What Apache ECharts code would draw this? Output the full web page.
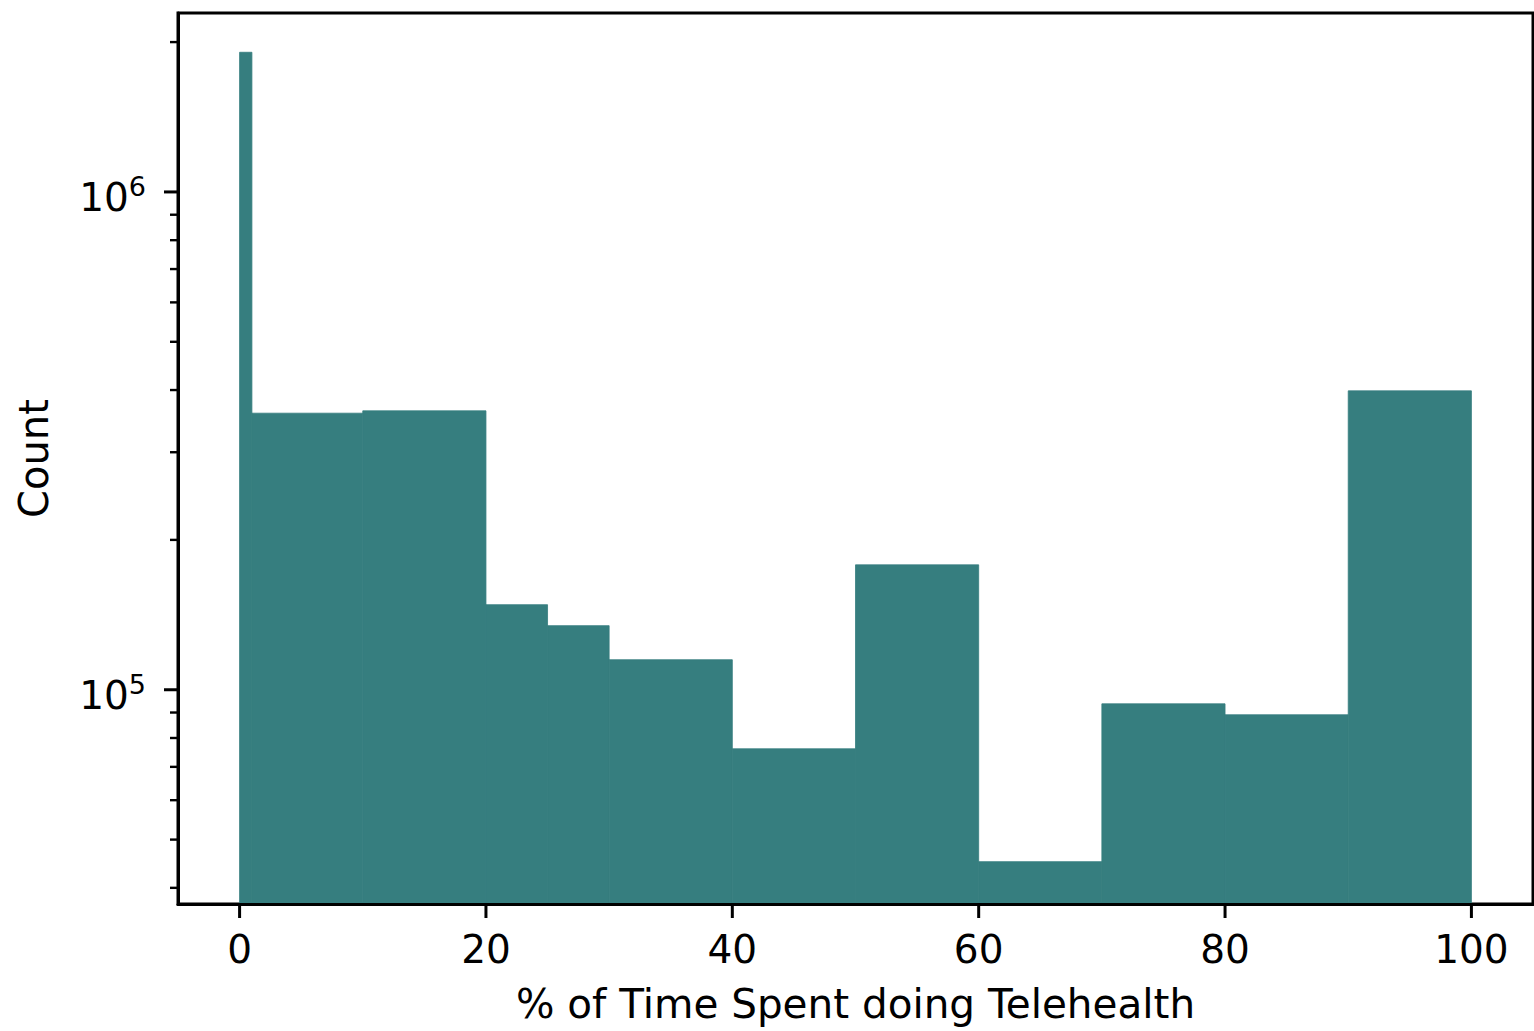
<!DOCTYPE html>
<html>
<head>
<meta charset="utf-8">
<script src="https://cdn.jsdelivr.net/npm/echarts@6/dist/echarts.min.js"></script>
<style>
  html, body { margin: 0; padding: 0; background: #fff; }
  #chart { width: 1534px; height: 1031px; }
</style>
</head>
<body>
<div id="chart"></div>
<script>
// histogram bins (edges) and counts
var binEdges = [0, 1, 10, 20, 25, 30, 40, 50, 60, 70, 80, 90, 100];
var counts = [1908000, 359400, 363300, 148200, 134500, 114900, 76100, 178200, 45150, 93700, 89070, 398500];
var xTicks = [0, 20, 40, 60, 80, 100];
var yMajorTicks = [1e5, 1e6];
var yMinorTicks = [4e4, 5e4, 6e4, 7e4, 8e4, 9e4, 2e5, 3e5, 4e5, 5e5, 6e5, 7e5, 8e5, 9e5, 2e6];

var X_MIN = -5, X_MAX = 105;
var Y_MIN = 37120, Y_MAX = 2288000;
var FONT = "DejaVu Sans";
var BAR_COLOR = "#367e7f";

var bars = [];
for (var i = 0; i < counts.length; i++) {
  bars.push([binEdges[i], binEdges[i + 1], counts[i]]);
}

var tickData = [];
xTicks.forEach(function (v) { tickData.push([v, Y_MIN, "x", 14, 3]); });
yMajorTicks.forEach(function (v) { tickData.push([X_MIN, v, "y", 14, 3]); });
yMinorTicks.forEach(function (v) { tickData.push([X_MIN, v, "y", 8, 2.4]); });

var chart = echarts.init(document.getElementById("chart"), null, { renderer: "svg" });

chart.setOption({
  animation: false,
  backgroundColor: "#fff",
  grid: {
    left: 178, right: 1, top: 13, bottom: 127,
    show: true, borderColor: "#000", borderWidth: 3
  },
  xAxis: {
    type: "value",
    min: X_MIN,
    max: X_MAX,
    z: 10,
    splitLine: { show: false },
    axisTick: { show: false },
    axisLine: { show: true, onZero: false, lineStyle: { color: "#000", width: 3 } },
    axisLabel: {
      show: true,
      margin: 26,
      fontSize: 39,
      fontFamily: FONT,
      color: "#000",
      showMinLabel: false,
      showMaxLabel: false,
      formatter: function (v) {
        return (v % 20 === 0 && v >= 0 && v <= 100) ? String(v) : "";
      }
    },
    name: "% of Time Spent doing Telehealth",
    nameLocation: "middle",
    nameGap: 79,
    nameTextStyle: { fontSize: 40.5, fontFamily: FONT, color: "#000" }
  },
  yAxis: {
    type: "log",
    logBase: 10,
    min: Y_MIN,
    max: Y_MAX,
    z: 10,
    splitLine: { show: false },
    axisTick: { show: false },
    axisLine: { show: true, onZero: false, lineStyle: { color: "#000", width: 3 } },
    axisLabel: {
      show: true,
      margin: 32,
      padding: [7, 0, 0, 0],
      showMinLabel: false,
      showMaxLabel: false,
      formatter: function (v) {
        var e = Math.log(v) / Math.LN10;
        var r = Math.round(e);
        if (Math.abs(e - r) > 1e-6) return "";
        return "{b|10}{s|" + r + "}";
      },
      rich: {
        b: { fontSize: 39, fontFamily: FONT, color: "#000", lineHeight: 44, verticalAlign: "bottom", padding: [12, 0, 0, 0] },
        s: { fontSize: 27, fontFamily: FONT, color: "#000", lineHeight: 44, verticalAlign: "top", padding: [0, 0, 0, 0] }
      }
    },
    name: "Count",
    nameLocation: "middle",
    nameGap: 124,
    nameRotate: 90,
    nameTextStyle: { fontSize: 40, fontFamily: FONT, color: "#000" }
  },
  series: [
    {
      type: "custom",
      name: "hist",
      z: 2,
      clip: true,
      data: bars,
      encode: { x: [0, 1], y: 2 },
      renderItem: function (params, api) {
        var x0 = api.value(0), x1 = api.value(1), c = api.value(2);
        var p0 = api.coord([x0, c]);
        var p1 = api.coord([x1, c]);
        var bottom = params.coordSys.y + params.coordSys.height;
        return {
          type: "rect",
          shape: { x: p0[0], y: p0[1], width: p1[0] - p0[0], height: bottom - p0[1] },
          style: { fill: BAR_COLOR, stroke: BAR_COLOR, lineWidth: 0.8 }
        };
      }
    },
    {
      type: "custom",
      name: "ticks",
      z: 11,
      clip: false,
      silent: true,
      data: tickData,
      renderItem: function (params, api) {
        var d = tickData[params.dataIndex];
        var cs = params.coordSys;
        var p = api.coord([d[0], d[1]]);
        var shape;
        if (d[2] === "x") {
          var yb = cs.y + cs.height;
          shape = { x1: p[0], y1: yb, x2: p[0], y2: yb + d[3] };
        } else {
          shape = { x1: cs.x - d[3], y1: p[1], x2: cs.x, y2: p[1] };
        }
        return {
          type: "line",
          shape: shape,
          style: { stroke: "#000", lineWidth: d[4] }
        };
      }
    }
  ]
});
</script>
</body>
</html>
